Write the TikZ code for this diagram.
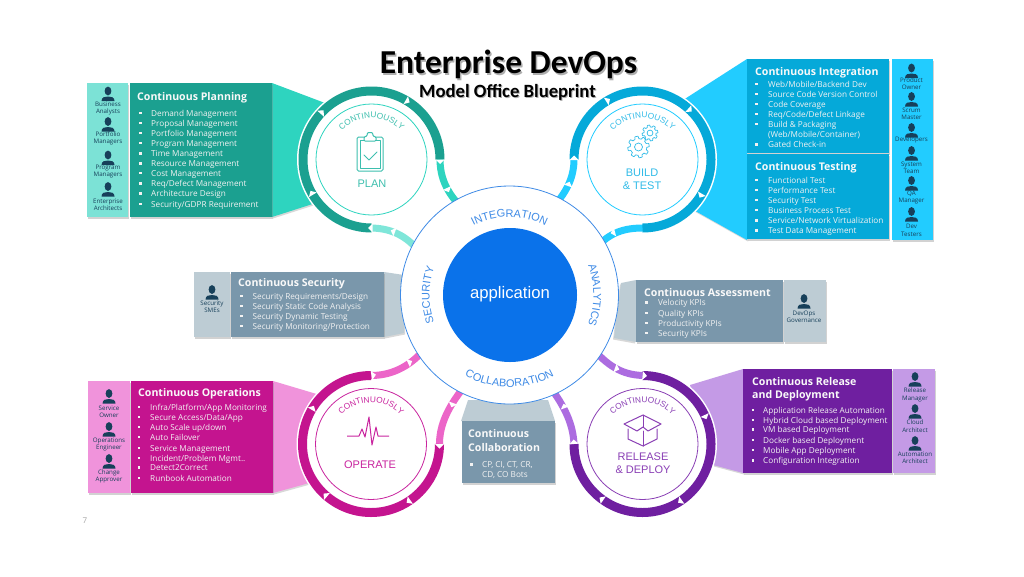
\documentclass[tikz,border=0pt]{standalone}
\usepackage{fontspec}
\setmainfont{Open Sans}
\newfontfamily\labelfont{Liberation Sans}
\newfontfamily\titlefont{Carlito}
\usetikzlibrary{calc}
\usetikzlibrary{shadows}
\usetikzlibrary{decorations.text}

\definecolor{planDark}{HTML}{1BA090}
\definecolor{planMid}{HTML}{2ED4BF}
\definecolor{planLight}{HTML}{7FE6D9}
\definecolor{planRole}{HTML}{7CE2D6}
\definecolor{planLabel}{HTML}{3DBFAE}
\definecolor{buildDark}{HTML}{05A9D9}
\definecolor{buildLight}{HTML}{22CCFF}
\definecolor{buildLabel}{HTML}{30BBE8}
\definecolor{greyMain}{HTML}{7A97AB}
\definecolor{greyLight}{HTML}{BDCCD4}
\definecolor{opDark}{HTML}{C4148F}
\definecolor{opMid}{HTML}{F093DB}
\definecolor{opLight}{HTML}{EC65C8}
\definecolor{opLabel}{HTML}{C9259F}
\definecolor{relDark}{HTML}{6F1FA0}
\definecolor{relMid}{HTML}{C49AE6}
\definecolor{relLight}{HTML}{AC6CE0}
\definecolor{relLabel}{HTML}{8A3FB5}
\definecolor{coreBlue}{HTML}{0A72EA}
\definecolor{coreLine}{HTML}{3F8BE6}
\definecolor{personDark}{HTML}{17405A}

\tikzset{
  panelbox/.style={fill=#1,drop shadow={shadow xshift=.7pt,shadow yshift=-1.5pt,opacity=.35}},
  paneltitle/.style={font=\fontsize{10.6}{13.5}\selectfont\bfseries,anchor=west,inner sep=0pt,yshift=-1pt,text=white!95!gray,align=left},
  listitem/.style={font=\fontsize{8.2}{8.2}\selectfont,anchor=west,inner sep=0pt,text height=7.4pt,text depth=2pt,text=white!90!gray},
  rolelabel/.style={font=\fontsize{6.2}{7.4}\selectfont,align=center,inner sep=0pt,text=personDark},
  stagelabel/.style={font=\labelfont\fontsize{11}{13}\selectfont,align=center,inner sep=0pt},
  iconline/.style={line width=1pt,line join=round,line cap=round},
  linkband/.style={#1,line width=7pt},
}

% ring of one stage: centre, first angle, last angle, colour
\newcommand{\stagering}[4]{
  \draw[#4,line width=9pt] ($(#1)+(#2:68.5pt)$) arc[start angle=#2,end angle=#3,radius=68.5pt];
}
% white tip: position, heading
\newcommand{\notchat}[2]{
  \fill[white,shift={#1},rotate=#2] (0pt,-4.5pt)--(0pt,4.5pt)--(4.5pt,0pt)--cycle;
}
\newcommand{\ringnotch}[2]{
  \notchat{($(#1)+(#2:68.5pt)$)}{#2-90}
}
\newcommand{\continuously}[2]{
  \path[decorate,decoration={text along path,text align=center,
    text={|\labelfont\fontsize{8.3}{9}\selectfont\color{#2}|CONTINUOUSLY}}]
    ($(#1)+(138:41.5pt)$) arc[start angle=138,end angle=42,radius=41.5pt];
}
\newcommand{\corelabel}[4]{
  \path[decorate,decoration={text along path,text align=center,
    text={|\labelfont\fontsize{11}{11}\selectfont\color{coreLine}|#4}}]
    ($(core)+(#1:#3pt)$) arc[start angle=#1,end angle=#2,radius=#3pt];
}
\newcommand{\person}[2]{
  \fill[personDark] (#1,#2-3.5) ellipse[x radius=3.4pt,y radius=4.4pt];
  \fill[personDark] (#1-6.5,#2+6.5) .. controls (#1-6.5,#2+2.5) and (#1-3,#2+2) .. (#1,#2+2)
    .. controls (#1+3,#2+2) and (#1+6.5,#2+2.5) .. (#1+6.5,#2+6.5) -- cycle;
}
\newcommand{\panellist}[4]{
  \foreach \y/\t [count=\i] in {#4}{
    \fill[white!90!gray] (#2-1.6,\y-1.7) rectangle (#2+.8,\y+.7);
    \node[listitem] (#1\i) at (#3,\y) {\t};
  }
}
\newcommand{\gearat}[4]{
  \draw[buildLabel,line width=.7pt,shift={(#1,#2)}]
    plot[domain=0:360,samples=121,variable=\a] ({\a}:{(#3+0.13*#3*min(1,max(-1,3*sin(#4*\a))))*1pt}) -- cycle;
  \draw[buildLabel,line width=.7pt] (#1,#2) circle[radius=#3*.42pt];
}

\begin{document}
\begin{tikzpicture}[x=1pt,y=-1pt]

\useasboundingbox (0,0) rectangle (1024,576);
\fill[white] (0,0) rectangle (1024,576);

\coordinate (plan) at (371.5,159.5);
\coordinate (build) at (642.5,159.5);
\coordinate (operate) at (371,444);
\coordinate (release) at (642.5,444);
\coordinate (core) at (509.5,295);

% wedges towards the rings
\fill[planMid,drop shadow={shadow xshift=1pt,shadow yshift=-1.5pt,opacity=.3}] (272,83)--(325,103)--(325,200)--(272,217)--cycle;
\fill[buildLight,drop shadow={shadow xshift=1pt,shadow yshift=-1.5pt,opacity=.3}] (747,59)--(680,102)--(690,208)--(747,240)--cycle;
\fill[opMid,drop shadow={shadow xshift=1pt,shadow yshift=-1.5pt,opacity=.3}] (273,381)--(320,395)--(320,480)--(273,493)--cycle;
\fill[relMid,drop shadow={shadow xshift=1pt,shadow yshift=-1.5pt,opacity=.3}] (743,369)--(690,385)--(713,465)--(743,473)--cycle;
\fill[greyLight,drop shadow={shadow xshift=1pt,shadow yshift=-1.5pt,opacity=.3}] (384,272)--(404,275)--(404,333)--(384,337)--cycle;
\fill[greyLight,drop shadow={shadow xshift=-1pt,shadow yshift=-1.5pt,opacity=.3}] (636,280)--(621,283)--(614,338)--(636,342)--cycle;
\fill[greyLight] (461,421)--(468,400)--(548,400)--(555,421)--cycle;

% stage rings
\foreach \stage in {plan,build,operate,release}{
  \fill[white] (\stage) circle[radius=74.5pt];
}

% links to the core
\draw[linkband=planMid] (440,159) .. controls (440,178) and (447,192) .. (460,206);
\draw[linkband=planLight] (370,228) .. controls (390,228) and (405,235) .. (418,250);
\draw[linkband=buildLight] (574,159) .. controls (574,176) and (568,190) .. (554,206);
\draw[linkband=buildLight] (643,228) .. controls (625,228) and (610,232) .. (596,248);
\draw[linkband=opLight] (371,375.5) .. controls (390,375.5) and (408,368) .. (424,350);
\draw[linkband=opLight] (439.5,446) .. controls (439,425) and (448,406) .. (468,382);
\draw[linkband=relLight] (645,375.5) .. controls (625,375.5) and (610,368) .. (594,350);
\draw[linkband=relLight] (574,444) .. controls (573,425) and (566,408) .. (548,384);

\stagering{plan}{270}{0}{planDark}
\stagering{build}{180}{-90}{buildDark}
\stagering{operate}{360}{90}{opDark}
\stagering{release}{90}{-180}{relDark}

\foreach \a in {138,60,211}{\ringnotch{plan}{\a}}
\foreach \a in {122,48,-30}{\ringnotch{build}{\a}}
\foreach \a in {150,230,-55}{\ringnotch{operate}{\a}}
\foreach \a in {235,-55,25}{\ringnotch{release}{\a}}
\foreach \pos/\rot in {{(447,188)}/-65,{(440,159.5)}/-90,{(395,232)}/160,{(372.5,228)}/180,
    {(568,186)}/70,{(574,160)}/90,{(615,232)}/195,
    {(453,403)}/250,{(439.5,444)}/-90,{(408,363)}/25,{(371.5,375.5)}/10,
    {(615,368)}/-20,{(642.5,375.5)}/-5,{(565,408)}/110,{(574,444)}/95}{
  \notchat{\pos}{\rot}
}

\draw[planMid,line width=.8pt] (plan) circle[radius=55.5pt];
\draw[buildLight,line width=.8pt] (build) circle[radius=55.5pt];
\draw[opLabel,line width=.8pt] (operate) circle[radius=55.5pt];
\draw[relLabel,line width=.8pt] (release) circle[radius=55.5pt];

\continuously{plan}{planLabel}
\continuously{build}{buildLabel}
\continuously{operate}{opLabel}
\continuously{release}{relLabel}

\node[stagelabel,text=planLabel] (planname) at (372,184) {PLAN};
\node[stagelabel,text=buildLabel] (buildname) at (642,179.5) {BUILD\\\& TEST};
\node[stagelabel,text=opLabel] (operatename) at (370,465) {OPERATE};
\node[stagelabel,text=relLabel] (releasename) at (643,463.5) {RELEASE\\\& DEPLOY};

% clipboard
\draw[planLabel,iconline,rounded corners=1.5pt] (357,137) rectangle (383,171);
\draw[planLabel,iconline] (360,140) rectangle (380,168);
\fill[white] (364,134) rectangle (376,141);
\draw[planLabel,iconline,rounded corners=1pt] (364,141)--(364,137)--(367,136)--(367.5,132.5)--(372.5,132.5)--(373,136)--(376,137)--(376,141)--cycle;
\draw[planLabel,iconline] (364,155)--(369,160)--(377,152);

% gears
\gearat{638.5}{147}{9.5}{8}
\gearat{650}{133}{7}{8}

% pulse
\draw[opLabel,line width=1pt,line join=round] (347,436)--(359,436)--(362,429)--(365,437)--(369,417)--(372,445)--(376,427)--(378,436)--(389,436);

% box
\draw[relLabel,iconline] (628,429)--(628,439)--(643,446)--(657,439)--(657,429);
\draw[relLabel,iconline] (643,431)--(643,446);
\draw[relLabel,iconline] (624,424)--(643,415)--(661,424)--(648,431)--(643,427)--(637,431)--cycle;
\draw[relLabel,iconline] (643,415)--(643,427);

% core
\draw[fill=white,draw=coreLine,line width=.8pt] (core) circle[radius=109pt];
\fill[coreBlue] (510,295) circle[radius=67pt];
\node[font=\labelfont\fontsize{16.7}{17}\selectfont,text=white,inner sep=0pt] (appname) at (510,294) {application};
\corelabel{120}{60}{78}{INTEGRATION}
\corelabel{206}{154}{80}{SECURITY}
\corelabel{25}{-25}{84}{ANALYTICS}
\corelabel{235}{305}{92}{COLLABORATION}

% panels
\fill[panelbox=planRole] (87,83) rectangle (128,217);
\fill[panelbox=planDark] (130,83) rectangle (272,217);
\node[paneltitle] (plantitle) at (137,97) {Continuous Planning};
\panellist{planitem}{141}{151}{113.3/Demand Management,123.3/Proposal Management,133.4/Portfolio Management,143.4/Program Management,153.8/Time Management,163.8/Resource Management,173.6/Cost Management,184/{Req/Defect Management},194/Architecture Design,204.3/{Security/GDPR Requirement}}
\foreach \y in {94.5,125,158.5,190}{\person{108}{\y}}
\node[rolelabel] (role1) at (108,108.7) {Business\\Analysts};
\node[rolelabel] (role2) at (108,138.5) {Portfolio\\Managers};
\node[rolelabel] (role3) at (108,171.5) {Program\\Managers};
\node[rolelabel] (role4) at (108,205) {Enterprise\\Architects};

\fill[panelbox=buildLight] (892,59) rectangle (933,240);
\fill[panelbox=buildDark] (747,59) rectangle (889,153);
\fill[panelbox=buildDark] (747,154) rectangle (889,239);
\node[paneltitle] (cititle) at (755,71.5) {Continuous Integration};
\panellist{ciitem}{757}{768}{84.7/{Web/Mobile/Backend Dev},94.3/Source Code Version Control,104.3/Code Coverage,114.3/{Req/Code/Defect Linkage},124.7/Build \& Packaging,145/Gated Check-in}
\node[listitem] (ciwrap) at (768,134.7) {(Web/Mobile/Container)};
\node[paneltitle] (cttitle) at (755,166.5) {Continuous Testing};
\panellist{ctitem}{757}{768}{180.3/Functional Test,190.3/Performance Test,200.7/Security Test,210.7/Business Process Test,221/{Service/Network Virtualization},231/Test Data Management}
\foreach \y in {71.5,100,131,154,184,215}{\person{911.5}{\y}}
\node[rolelabel] (role5) at (911.5,83.5) {Product\\Owner};
\node[rolelabel] (role6) at (911.5,113.5) {Scrum\\Master};
\node[rolelabel] (role7) at (911.5,140) {Developers};
\node[rolelabel] (role8) at (911.5,167.5) {System\\Team};
\node[rolelabel] (role9) at (911.5,197.5) {QA\\Manager};
\node[rolelabel] (role10) at (911.5,230.5) {Dev\\Testers};

\fill[panelbox=greyLight] (194,272) rectangle (230,337);
\fill[panelbox=greyMain] (231,272) rectangle (384,337);
\node[paneltitle] (sectitle) at (238,283) {Continuous Security};
\panellist{secitem}{242}{252.5}{296.7/{Security Requirements/Design},306.7/Security Static Code Analysis,316.7/Security Dynamic Testing,326.7/{Security Monitoring/Protection}}
\person{212}{293}
\node[rolelabel] (role11) at (212,307) {Security\\SMEs};

\fill[panelbox=greyMain] (636,280) rectangle (783,342);
\fill[panelbox=greyLight] (784,280) rectangle (826,342);
\node[paneltitle] (asstitle) at (644,291.5) {Continuous Assessment};
\panellist{assitem}{647}{658}{303/Velocity KPIs,313.3/Quality KPIs,323.3/Productivity KPIs,333.7/Security KPIs}
\person{804}{302}
\node[rolelabel] (role12) at (804,316.5) {DevOps\\Governance};

\fill[panelbox=opMid] (88,381) rectangle (130,493);
\fill[panelbox=opDark] (131,381) rectangle (273,493);
\node[paneltitle] (optitle) at (138,393) {Continuous Operations};
\panellist{opitem}{139.5}{150}{407.7/{Infra/Platform/App Monitoring},417.7/{Secure Access/Data/App},427.7/{Auto Scale up/down},437.7/Auto Failover,448.3/Service Management,458.3/{Incident/Problem Mgmt..},468/Detect2Correct,478.3/Runbook Automation}
\foreach \y in {397,430,462}{\person{109}{\y}}
\node[rolelabel] (role13) at (109,411.5) {Service\\Owner};
\node[rolelabel] (role14) at (109,444.5) {Operations\\Engineer};
\node[rolelabel] (role15) at (109,476.5) {Change\\Approver};

\fill[panelbox=relDark] (743,369) rectangle (892,473);
\fill[panelbox=relMid] (893,369) rectangle (935,473);
\node[paneltitle] (reltitle) at (752,388) {Continuous Release\\and Deployment};
\panellist{relitem}{753.5}{763}{410.7/Application Release Automation,420.3/Hybrid Cloud based Deployment,430/VM based Deployment,440.7/Docker based Deployment,450.7/Mobile App Deployment,461/Configuration Integration}
\foreach \y in {380,412,444}{\person{915}{\y}}
\node[rolelabel] (role16) at (915,395) {Release\\Manager};
\node[rolelabel] (role17) at (915,426) {Cloud\\Architect};
\node[rolelabel] (role18) at (915,458) {Automation\\Architect};

\fill[panelbox=greyMain] (462,421) rectangle (555,483);
\node[paneltitle] (coltitle) at (468,439.5) {Continuous\\Collaboration};
\panellist{colitem}{472}{482}{465/{CP, CI, CT, CR,}}
\node[listitem] (colwrap) at (482,475) {CD, CO Bots};

% title
\node[font=\titlefont\bfseries\fontsize{33.5}{33.5}\selectfont,text=black!70,inner sep=0pt,opacity=.45] (titleshade) at (510,66) {Enterprise DevOps};
\node[font=\titlefont\bfseries\fontsize{33.5}{33.5}\selectfont,inner sep=0pt] (title) at (508.5,64) {Enterprise DevOps};
\node[font=\titlefont\bfseries\fontsize{18.7}{18.7}\selectfont,text=black!70,inner sep=0pt,opacity=.45] (subtitleshade) at (508.5,93.2) {Model Office Blueprint};
\node[font=\titlefont\bfseries\fontsize{18.7}{18.7}\selectfont,inner sep=0pt] (subtitle) at (507.5,92) {Model Office Blueprint};

\node[font=\fontsize{8}{8}\selectfont,text=gray!70,inner sep=0pt] (pagenum) at (85,521) {7};

\end{tikzpicture}
\end{document}
